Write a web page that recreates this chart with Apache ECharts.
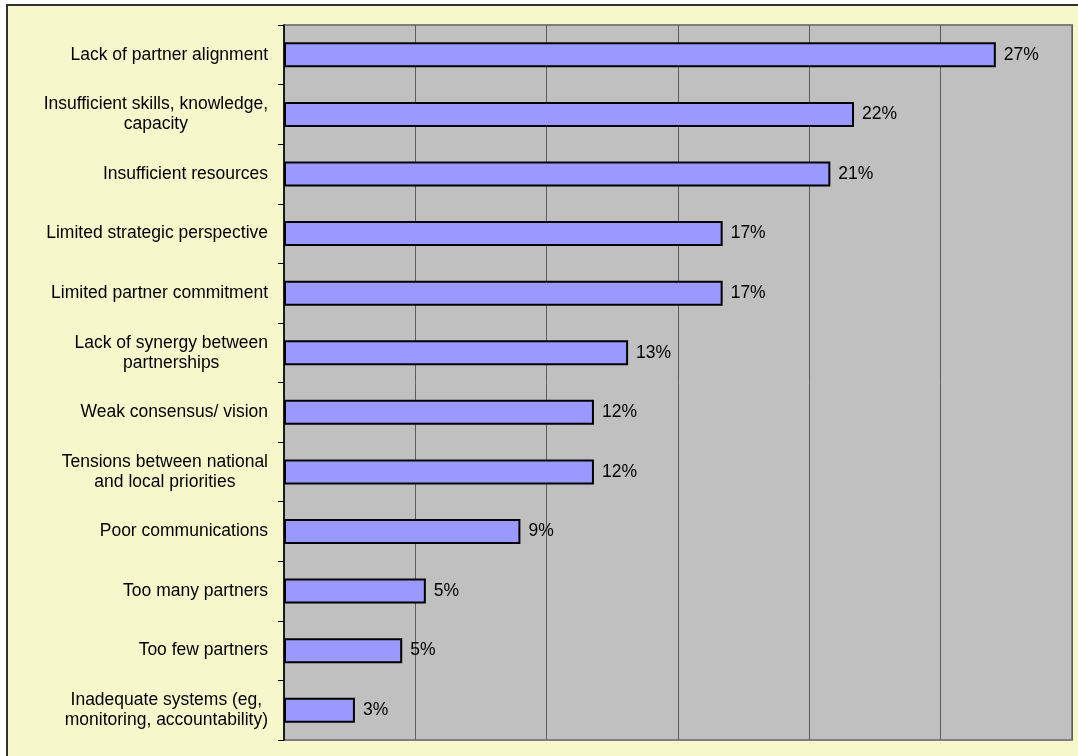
<!DOCTYPE html>
<html>
<head>
<meta charset="utf-8">
<script src="https://cdn.jsdelivr.net/npm/echarts@6/dist/echarts.min.js"></script>
<style>
html,body{margin:0;padding:0;background:#fff;}
#chart{width:1078px;height:756px;}
</style>
</head>
<body>
<div id="chart"></div>
<script>
const categories = [
  "Lack of partner alignment",
  "Insufficient skills, knowledge,\ncapacity",
  "Insufficient resources",
  "Limited strategic perspective",
  "Limited partner commitment",
  "Lack of synergy between\npartnerships",
  "Weak consensus/ vision",
  "Tensions between national\nand local priorities",
  "Poor communications",
  "Too many partners",
  "Too few partners",
  "Inadequate systems (eg,\nmonitoring, accountability)"
];
const values = [27.1, 21.7, 20.8, 16.7, 16.7, 13.1, 11.8, 11.8, 9.0, 5.4, 4.5, 2.7];
const xTicks = [0, 5, 10, 15, 20, 25, 30];

const FONT = '"Liberation Sans", Arial, sans-serif';
const FS = 17.5;
const LH = 20;
const chart = echarts.init(document.getElementById('chart'), null, {renderer: 'canvas'});
chart.setOption({
  backgroundColor: '#ffffff',
  animation: false,
  graphic: [{
    type: 'rect', z: -10, silent: true,
    shape: {x: 7, y: 5, width: 1100, height: 800},
    style: {fill: '#F7F7CC', stroke: '#333333', lineWidth: 2}
  }],
  grid: {
    left: 284, top: 25, width: 788, height: 715,
    show: true, backgroundColor: '#C0C0C0', borderColor: '#7f7f7f', borderWidth: 2
  },
  xAxis: {
    type: 'value', min: xTicks[0], max: xTicks[xTicks.length - 1], interval: 5,
    axisLine: {show: false}, axisTick: {show: false}, axisLabel: {show: false},
    splitLine: {show: true, lineStyle: {color: '#5c5c5c', width: 1}}
  },
  yAxis: {
    type: 'category', inverse: true, data: categories,
    axisLine: {show: true, lineStyle: {color: '#000', width: 1.5}},
    axisTick: {show: true, length: 6, lineStyle: {color: '#000', width: 1}},
    axisLabel: {
      margin: 16, align: 'right', color: '#000', fontFamily: FONT, fontSize: FS, lineHeight: LH,
      formatter: function (v) { return v.split('\n').map(function (l) { return '{c|' + l + '}'; }).join('\n'); },
      rich: {c: {align: 'center', fontFamily: FONT, fontSize: FS, lineHeight: LH, color: '#000'}}
    },
    splitLine: {show: false}
  },
  series: [{
    type: 'bar', data: values, barWidth: 25,
    itemStyle: {color: '#9999FF', borderColor: '#000', borderWidth: 2},
    label: {
      show: true, position: 'right', distance: 8, color: '#000', fontFamily: FONT, fontSize: FS,
      formatter: function (p) { return Math.round(p.value) + '%'; }
    }
  }]
});
</script>
</body>
</html>
